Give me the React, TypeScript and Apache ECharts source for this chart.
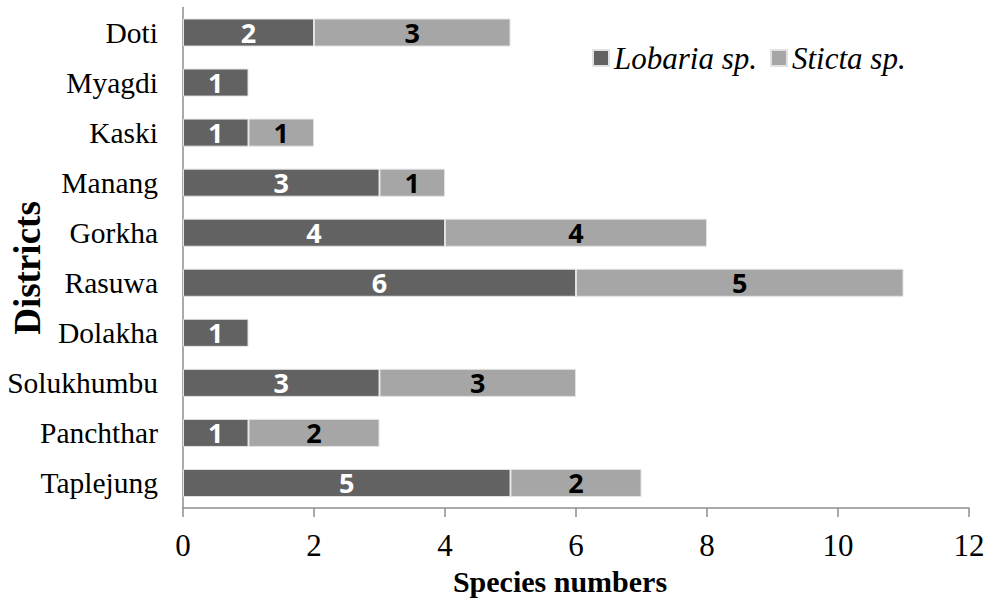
import React, { useEffect, useRef } from "react";
import * as echarts from "echarts";

const categories = ["Doti", "Myagdi", "Kaski", "Manang", "Gorkha", "Rasuwa", "Dolakha", "Solukhumbu", "Panchthar", "Taplejung"];
const lobaria = [2, 1, 1, 3, 4, 6, 1, 3, 1, 5];
const sticta = [3, null, 1, 1, 4, 5, null, 3, 2, 2];
const seriesNames = ["Lobaria sp.", "Sticta sp."];
const xTitle = "Species numbers";
const yTitle = "Districts";

const SERIF = "'Liberation Serif', 'Times New Roman', serif";
const SANS = "'Open Sans', 'Noto Sans', sans-serif";

export default function App() {
  const ref = useRef<HTMLDivElement>(null);
  useEffect(() => {
    if (!ref.current) return;
    const chart = echarts.init(ref.current, undefined, { renderer: "svg" });
    chart.setOption({
      animation: false,
      backgroundColor: "#ffffff",
      grid: { left: 183, right: 20, top: 7.5, bottom: 91, containLabel: false },
      legend: {
        left: 587,
        top: 37.5,
        icon: "rect",
        itemWidth: 16,
        itemHeight: 16,
        itemGap: 13,
        textStyle: { fontFamily: SERIF, fontSize: 31, fontStyle: "italic", color: "#000", lineHeight: 31 },
        data: seriesNames,
      },
      xAxis: {
        type: "value",
        min: 0,
        max: 12,
        interval: 2,
        axisLine: { show: true, lineStyle: { color: "#8e8e8e", width: 1.5 } },
        axisTick: { show: true, length: 9, lineStyle: { color: "#8e8e8e", width: 1.5 } },
        splitLine: { show: false },
        axisLabel: { fontFamily: SERIF, fontSize: 31, color: "#000", margin: 22 },
      },
      yAxis: {
        type: "category",
        inverse: true,
        data: categories,
        axisLine: { show: true, lineStyle: { color: "#8e8e8e", width: 1.5 } },
        axisTick: { show: false },
        axisLabel: { fontFamily: SERIF, fontSize: 29.5, color: "#000", margin: 25 },
      },
      series: [
        {
          name: seriesNames[0],
          type: "bar",
          stack: "total",
          data: lobaria,
          barCategoryGap: "44%",
          itemStyle: { color: "#626262", borderColor: "#e2e2e2", borderWidth: 1 },
          label: {
            show: true,
            position: "inside",
            color: "#ffffff",
            fontFamily: SANS,
            fontWeight: "bold",
            fontSize: 27,
          },
        },
        {
          name: seriesNames[1],
          type: "bar",
          stack: "total",
          data: sticta,
          barCategoryGap: "44%",
          itemStyle: { color: "#a6a6a6", borderColor: "#e2e2e2", borderWidth: 1 },
          label: {
            show: true,
            position: "inside",
            color: "#000000",
            fontFamily: SANS,
            fontWeight: "bold",
            fontSize: 27,
          },
        },
      ],
      graphic: [
        {
          type: "text",
          x: 560,
          y: 581,
          style: {
            text: xTitle,
            fontFamily: SERIF,
            fontWeight: "bold",
            fontSize: 30,
            fill: "#000",
            textAlign: "center",
            textVerticalAlign: "middle",
          },
        },
        {
          type: "text",
          x: 27,
          y: 268,
          rotation: Math.PI / 2,
          style: {
            text: yTitle,
            fontFamily: SERIF,
            fontWeight: "bold",
            fontSize: 37,
            fill: "#000",
            textAlign: "center",
            textVerticalAlign: "middle",
          },
        },
      ],
    });
    return () => chart.dispose();
  }, []);
  return (
    <div
      ref={ref}
      style={{ position: "absolute", left: 0, top: 0, width: 989, height: 599, overflow: "hidden" }}
    />
  );
}
